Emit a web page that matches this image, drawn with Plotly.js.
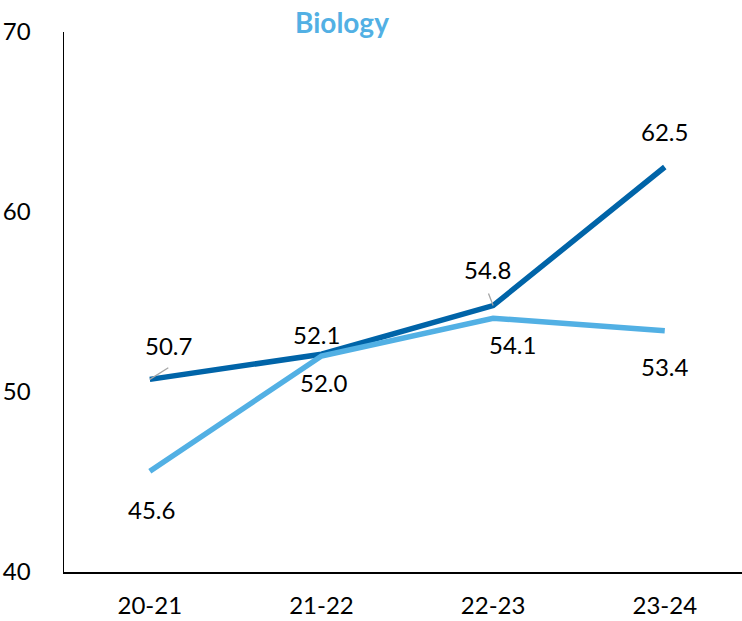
<!DOCTYPE html>
<html>
<head>
<meta charset="utf-8">
<script src="https://cdn.plot.ly/plotly-3.0.1.min.js"></script>
<style>html,body{margin:0;padding:0;background:#fff;}#chart{width:742px;height:621px;}</style>
</head>
<body>
<div id="chart"></div>
<script>
const categories = ["20-21", "21-22", "22-23", "23-24"];
const seriesDark = [50.7, 52.1, 54.8, 62.5];
const seriesLight = [45.6, 52.0, 54.1, 53.4];
const yTicks = [40, 50, 60, 70];

const darkColor = "#0064A8";
const lightColor = "#52B0E4";
const fontFam = "Lato, 'Open Sans', sans-serif";
const labelSize = 24;

const traces = [
  {x: categories, y: seriesDark, type: "scatter", mode: "lines", line: {color: darkColor, width: 5.5}, hoverinfo: "skip"},
  {x: categories, y: seriesLight, type: "scatter", mode: "lines", line: {color: lightColor, width: 5.5}, hoverinfo: "skip"}
];

// label offsets (pixels) per point: [xshift, yshift, leader dx, leader dy]
const darkOff = [[19, 34, 19, -12], [-5, 20, null, null], [-6, 36, -5, -13], [0, 36, null, null]];
const lightOff = [[2, -38], [3, -26], [19, -26], [0, -36]];

const annotations = [];
categories.forEach((c, i) => {
  const o = darkOff[i];
  annotations.push({x: c, y: seriesDark[i], xref: "x", yref: "y", text: seriesDark[i].toFixed(1),
    showarrow: false, xshift: o[0], yshift: o[1], font: {size: labelSize, color: "#000", family: fontFam}});
  if (o[2] !== null) {
    // leader line
    annotations.push({x: c, y: seriesDark[i], xref: "x", yref: "y", text: " ",
      showarrow: true, arrowhead: 0, arrowwidth: 1.3, arrowcolor: "#A6A6A6", ax: o[2], ay: o[3],
      borderpad: 0, standoff: 0, font: {size: 1, color: "rgba(0,0,0,0)"}});
  }
  const l = lightOff[i];
  annotations.push({x: c, y: seriesLight[i], xref: "x", yref: "y", text: seriesLight[i].toFixed(1),
    showarrow: false, xshift: l[0], yshift: l[1], font: {size: labelSize, color: "#000", family: fontFam}});
});

const layout = {
  width: 742, height: 621,
  margin: {l: 64, r: 0, t: 32, b: 49},
  paper_bgcolor: "#fff", plot_bgcolor: "#fff",
  showlegend: false,
  font: {family: fontFam, size: 24, color: "#000"},
  title: {text: "<b>Biology</b>", font: {size: 28, color: lightColor, family: fontFam},
    xref: "paper", x: 0.41, xanchor: "center", yref: "container", y: 0.962, yanchor: "middle"},
  xaxis: {type: "category", range: [-0.5, 3.45], showline: true, linecolor: "#000", linewidth: 1.5,
    showgrid: false, zeroline: false, ticks: "", tickfont: {size: 24, family: fontFam}, ticklabelstandoff: 12, fixedrange: true},
  yaxis: {range: [40, 70], tickvals: yTicks, ticktext: yTicks.map(String), showline: true, linecolor: "#000", linewidth: 1.5,
    showgrid: false, zeroline: false, ticks: "", tickfont: {size: 24, family: fontFam}, ticklabelstandoff: 27, fixedrange: true},
  annotations: annotations
};

Plotly.newPlot("chart", traces, layout, {displayModeBar: false, staticPlot: true});
</script>
</body>
</html>
